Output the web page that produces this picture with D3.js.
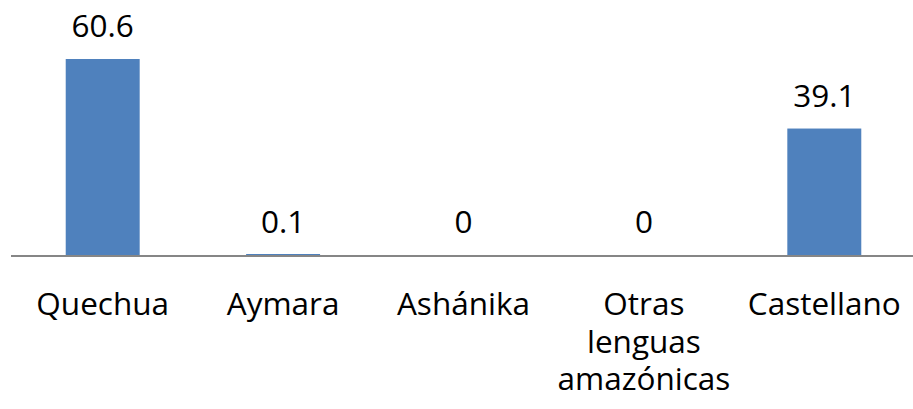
<!DOCTYPE html>
<html>
<head>
<meta charset="utf-8">
<script src="https://cdn.jsdelivr.net/npm/d3@7"></script>
<style>
html,body{margin:0;padding:0;background:#fff;}
svg{display:block;}
text{font-family:"Open Sans",sans-serif;fill:#000;}
</style>
</head>
<body>
<script>
const categories = ["Quechua", "Aymara", "Ashánika", "Otras lenguas amazónicas", "Castellano"];
const categoryLines = [["Quechua"], ["Aymara"], ["Ashánika"], ["Otras", "lenguas", "amazónicas"], ["Castellano"]];
const values = [60.6, 0.1, 0, 0, 39.1];
const valueLabels = ["60.6", "0.1", "0", "0", "39.1"];

const W = 913, H = 409;
const svg = d3.select("body").append("svg").attr("width", W).attr("height", H);

const x = d3.scaleBand().domain(categories).range([12.5, 914.5]).paddingInner(0.59).paddingOuter(0.295);
const y = d3.scaleLinear().domain([0, 60.6]).range([255, 59]);

svg.selectAll("rect.bar").data(values).join("rect")
  .attr("class", "bar")
  .attr("x", (d, i) => x(categories[i]))
  .attr("width", x.bandwidth())
  .attr("y", d => d > 0 ? Math.min(y(d), y(0) - 1) : y(0))
  .attr("height", d => d > 0 ? Math.max(1, y(0) - y(d)) : 0)
  .attr("fill", "#4f81bd");

svg.append("line")
  .attr("x1", 11).attr("x2", 913)
  .attr("y1", y(0) + 1).attr("y2", y(0) + 1)
  .attr("stroke", "#868686").attr("stroke-width", 2);

const fs = 31.5;
svg.selectAll("text.val").data(values).join("text")
  .attr("class", "val")
  .attr("x", (d, i) => x(categories[i]) + x.bandwidth() / 2)
  .attr("y", d => y(d) - 22)
  .attr("text-anchor", "middle")
  .attr("font-size", fs)
  .text((d, i) => valueLabels[i]);

const g = svg.selectAll("text.cat").data(categories).join("text")
  .attr("class", "cat")
  .attr("text-anchor", "middle")
  .attr("font-size", fs);
g.each(function(d, i) {
  const t = d3.select(this);
  categoryLines[i].forEach((ln, j) => {
    t.append("tspan")
      .attr("x", x(d) + x.bandwidth() / 2)
      .attr("y", 315 + j * 37.5)
      .text(ln);
  });
});
</script>
</body>
</html>
